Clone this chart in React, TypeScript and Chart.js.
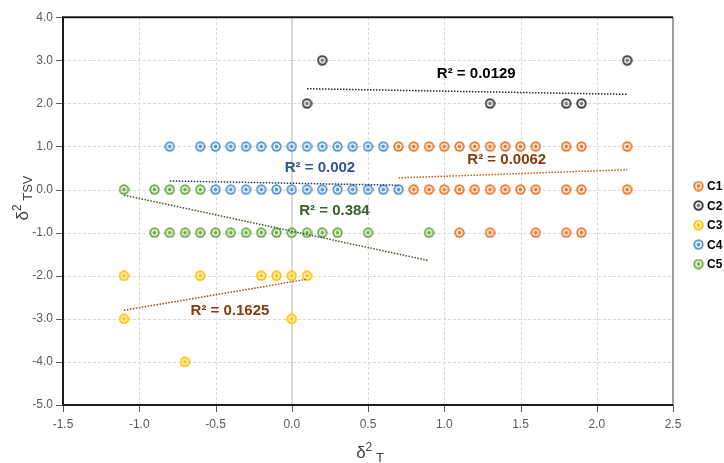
import React, { useEffect, useRef } from 'react';
import { Chart, registerables } from 'chart.js';

Chart.register(...registerables);

// ---------- data ----------
const seriesNames = ['C1', 'C2', 'C3', 'C4', 'C5'];
const seriesColors = ['#ED7D31', '#404040', '#FFC000', '#5B9BD5', '#70AD47'];
const seriesInner = ['#ED7D31', '#7F7F7F', '#FFC000', '#5B9BD5', '#70AD47'];

const c1X = [0.7, 0.8, 0.9, 1.0, 1.1, 1.2, 1.3, 1.4, 1.5, 1.6, 1.8, 1.9, 2.2,
  0.8, 0.9, 1.0, 1.1, 1.2, 1.3, 1.4, 1.5, 1.6, 1.8, 1.9, 2.2,
  1.1, 1.3, 1.6, 1.8, 1.9];
const c1Y = [1, 1, 1, 1, 1, 1, 1, 1, 1, 1, 1, 1, 1,
  0, 0, 0, 0, 0, 0, 0, 0, 0, 0, 0, 0,
  -1, -1, -1, -1, -1];

const c2X = [0.2, 0.1, 1.3, 1.8, 1.9, 2.2];
const c2Y = [3, 2, 2, 2, 2, 3];

const c3X = [-1.1, -0.6, -0.2, -0.1, 0.0, 0.1, -1.1, 0.0, -0.7];
const c3Y = [-2, -2, -2, -2, -2, -2, -3, -3, -4];

const c4X = [-0.8, -0.6, -0.5, -0.4, -0.3, -0.2, -0.1, 0.0, 0.1, 0.2, 0.3, 0.4, 0.5, 0.6,
  -0.5, -0.4, -0.3, -0.2, -0.1, 0.0, 0.1, 0.2, 0.3, 0.4, 0.5, 0.6, 0.7];
const c4Y = [1, 1, 1, 1, 1, 1, 1, 1, 1, 1, 1, 1, 1, 1,
  0, 0, 0, 0, 0, 0, 0, 0, 0, 0, 0, 0, 0];

const c5X = [-1.1, -0.9, -0.8, -0.7, -0.6,
  -0.9, -0.8, -0.7, -0.6, -0.5, -0.4, -0.3, -0.2, -0.1, 0.0, 0.1, 0.2, 0.3, 0.5, 0.9];
const c5Y = [0, 0, 0, 0, 0,
  -1, -1, -1, -1, -1, -1, -1, -1, -1, -1, -1, -1, -1, -1, -1];

// trendline end points
const trendC1X = [0.7, 2.2];
const trendC1Y = [0.27, 0.46];
const trendC2X = [0.1, 2.2];
const trendC2Y = [2.34, 2.21];
const trendC3X = [-1.1, 0.1];
const trendC3Y = [-2.8, -2.08];
const trendC4X = [-0.8, 0.7];
const trendC4Y = [0.2, 0.1];
const trendC5X = [-1.1, 0.9];
const trendC5Y = [-0.13, -1.65];
const trendColors = ['#C55A11', '#262626', '#9E480E', '#203864', '#375623'];

// R² labels
const r2Texts = ['R² = 0.0062', 'R² = 0.0129', 'R² = 0.1625', 'R² = 0.002', 'R² = 0.384'];
const r2X = [1.41, 1.21, -0.405, 0.185, 0.28];
const r2Y = [0.68, 2.69, -2.82, 0.5, -0.5];
const r2Colors = ['#843C0C', '#000000', '#843C0C', '#2F5597', '#3B5E2B'];

const xTitleMain = 'δ';
const xTitleSup = '2';
const xTitleSub = 'T';
const yTitleMain = 'δ';
const yTitleSup = '2';
const yTitleSub = 'TSV';

const seriesX = [c1X, c2X, c3X, c4X, c5X];
const seriesY = [c1Y, c2Y, c3Y, c4Y, c5Y];
const trendX = [trendC1X, trendC2X, trendC3X, trendC4X, trendC5X];
const trendY = [trendC1Y, trendC2Y, trendC3Y, trendC4Y, trendC5Y];

function makeMarker(color: string, inner: string): HTMLCanvasElement {
  const c = document.createElement('canvas');
  c.width = 11;
  c.height = 11;
  const g = c.getContext('2d')!;
  g.fillStyle = color;
  g.beginPath(); g.arc(5.5, 5.5, 5.2, 0, Math.PI * 2); g.fill();
  g.fillStyle = '#FFFFFF';
  g.beginPath(); g.arc(5.5, 5.5, 3.2, 0, Math.PI * 2); g.fill();
  g.fillStyle = inner;
  g.beginPath(); g.arc(5.5, 5.5, 1.9, 0, Math.PI * 2); g.fill();
  return c;
}

function drawTitle(ctx: CanvasRenderingContext2D, main: string, sup: string, sub: string, cx: number, cy: number, rotate: boolean) {
  const mainFont = '17px "Liberation Sans", Arial, sans-serif';
  const supFont = '12px "Liberation Sans", Arial, sans-serif';
  const subFont = '13px "Liberation Sans", Arial, sans-serif';
  ctx.save();
  ctx.font = mainFont; const w1 = ctx.measureText(main).width;
  ctx.font = supFont; const w2 = ctx.measureText(sup).width;
  ctx.font = subFont; const ws = ctx.measureText(' ').width; const w3 = ctx.measureText(sub).width;
  const total = w1 + w2 + ws + w3;
  ctx.translate(cx, cy);
  if (rotate) ctx.rotate(-Math.PI / 2);
  ctx.fillStyle = '#404040';
  ctx.textBaseline = 'alphabetic';
  ctx.textAlign = 'left';
  let x = -total / 2;
  ctx.font = mainFont; ctx.fillText(main, x, 6); x += w1;
  ctx.font = supFont; ctx.fillText(sup, x, -1); x += w2 + ws;
  ctx.font = subFont; ctx.fillText(sub, x, 10);
  ctx.restore();
}

export default function App() {
  const ref = useRef<HTMLCanvasElement>(null);
  useEffect(() => {
    document.body.style.margin = '0';
    const markers = seriesColors.map((c, i) => makeMarker(c, seriesInner[i]));

    const pointSets: any[] = seriesNames.map((name, i) => ({
      type: 'scatter',
      label: name,
      data: seriesX[i].map((x, j) => ({ x, y: seriesY[i][j] })),
      pointStyle: markers[i],
      pointRadius: 5,
      showLine: false,
      order: 2,
    }));
    const trendSets: any[] = seriesNames.map((name, i) => ({
      type: 'line',
      label: name + ' trend',
      data: trendX[i].map((x, j) => ({ x, y: trendY[i][j] })),
      borderColor: trendColors[i],
      borderWidth: 1.5,
      borderDash: [1.5, 1.5],
      pointRadius: 0,
      fill: false,
      order: 1,
    }));

    const deco = {
      id: 'deco',
      beforeDatasetsDraw(chart: any) {
        const { ctx, chartArea: a, scales } = chart;
        const xs = scales.x, ys = scales.y;
        ctx.save();
        ctx.strokeStyle = '#D9D9D9';
        ctx.lineWidth = 1;
        ctx.setLineDash([3, 2]);
        xs.ticks.forEach((t: any) => {
          const px = Math.round(xs.getPixelForValue(t.value)) + 0.5;
          if (px > a.left + 2 && px < a.right - 2) {
            ctx.beginPath(); ctx.moveTo(px, a.top); ctx.lineTo(px, a.bottom); ctx.stroke();
          }
        });
        ys.ticks.forEach((t: any) => {
          const py = Math.round(ys.getPixelForValue(t.value)) + 0.5;
          if (py > a.top + 2 && py < a.bottom - 2) {
            ctx.beginPath(); ctx.moveTo(a.left, py); ctx.lineTo(a.right, py); ctx.stroke();
          }
        });
        ctx.setLineDash([]);
        const zx = Math.round(xs.getPixelForValue(0));
        ctx.strokeStyle = '#D9D9D9';
        ctx.lineWidth = 2;
        ctx.beginPath(); ctx.moveTo(zx, a.top); ctx.lineTo(zx, a.bottom); ctx.stroke();
        ctx.strokeStyle = '#595959';
        ctx.lineWidth = 1;
        ys.ticks.forEach((t: any) => {
          const py = Math.round(ys.getPixelForValue(t.value)) + 0.5;
          ctx.beginPath(); ctx.moveTo(a.left - 7, py); ctx.lineTo(a.left, py); ctx.stroke();
        });
        xs.ticks.forEach((t: any) => {
          const px = Math.round(xs.getPixelForValue(t.value)) + 0.5;
          ctx.beginPath(); ctx.moveTo(px, a.bottom); ctx.lineTo(px, a.bottom + 7); ctx.stroke();
        });
        ctx.strokeStyle = '#7F7F7F';
        ctx.lineWidth = 1.5;
        ctx.beginPath(); ctx.moveTo(a.right, a.top); ctx.lineTo(a.right, a.bottom); ctx.stroke();
        ctx.strokeStyle = '#1A1A1A';
        ctx.lineWidth = 2;
        ctx.beginPath();
        ctx.moveTo(a.right, a.top); ctx.lineTo(a.left, a.top); ctx.lineTo(a.left, a.bottom); ctx.lineTo(a.right, a.bottom);
        ctx.stroke();
        ctx.restore();
      },
      afterDraw(chart: any) {
        const { ctx, scales } = chart;
        const xs = scales.x, ys = scales.y;
        ctx.save();
        ctx.font = 'bold 15px "Liberation Sans", Arial, sans-serif';
        ctx.textAlign = 'center';
        ctx.textBaseline = 'middle';
        r2Texts.forEach((t, i) => {
          ctx.fillStyle = r2Colors[i];
          ctx.fillText(t, xs.getPixelForValue(r2X[i]), ys.getPixelForValue(r2Y[i]));
        });
        ctx.font = 'bold 12px "Liberation Sans", Arial, sans-serif';
        ctx.textAlign = 'left';
        ctx.fillStyle = '#000000';
        seriesNames.forEach((n, i) => {
          const ly = 186 + i * 19.5;
          ctx.drawImage(markers[i], 693, ly - 5.5);
          ctx.fillText(n, 707, ly + 1);
        });
        ctx.restore();
        drawTitle(ctx, xTitleMain, xTitleSup, xTitleSub, 370, 452, false);
        drawTitle(ctx, yTitleMain, yTitleSup, yTitleSub, 22, 198, true);
      },
    };

    const chart = new Chart(ref.current!, {
      type: 'scatter',
      data: { datasets: [...pointSets, ...trendSets] },
      options: {
        animation: false,
        responsive: false,
        devicePixelRatio: 1,
        layout: { padding: { top: 7, right: 51, left: 0, bottom: 0 } },
        plugins: { legend: { display: false }, tooltip: { enabled: false } },
        scales: {
          x: {
            type: 'linear',
            min: -1.5,
            max: 2.5,
            grid: { display: false, drawTicks: false },
            border: { display: false },
            afterFit: (s: any) => { s.height = 58; },
            ticks: {
              stepSize: 0.5,
              padding: 12,
              color: '#595959',
              font: { family: '"Liberation Sans", Arial, sans-serif', size: 12 },
              callback: (v: any) => Number(v).toFixed(1),
            },
          },
          y: {
            type: 'linear',
            min: -5,
            max: 4,
            grid: { display: false, drawTicks: false },
            border: { display: false },
            afterFit: (s: any) => { s.width = 63; },
            ticks: {
              stepSize: 1,
              padding: 10,
              color: '#595959',
              font: { family: '"Liberation Sans", Arial, sans-serif', size: 12 },
              callback: (v: any) => Number(v).toFixed(1),
            },
          },
        },
      },
      plugins: [deco],
    } as any);
    return () => chart.destroy();
  }, []);

  return (
    <div style={{ position: 'absolute', left: 0, top: 0, width: 724, height: 463, background: '#FFFFFF' }}>
      <canvas ref={ref} width={724} height={463} />
    </div>
  );
}
